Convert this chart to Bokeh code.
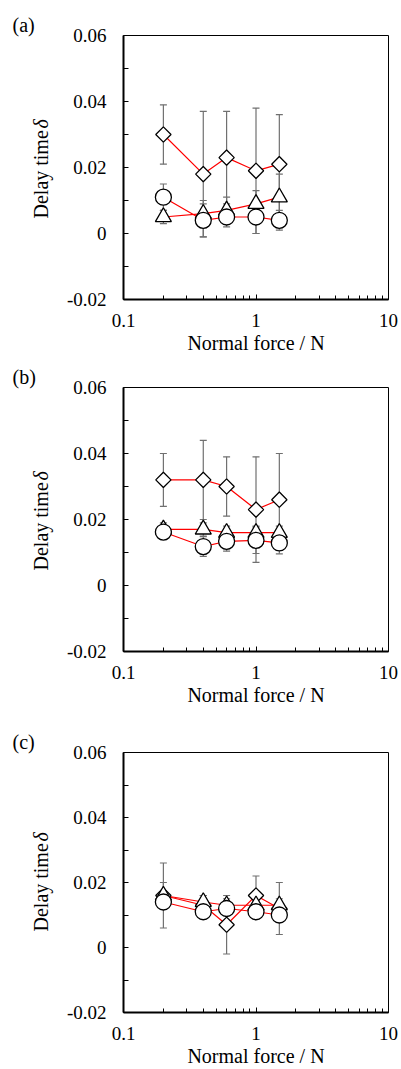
import math
from bokeh.plotting import figure
from bokeh.models import (Range1d, FixedTicker, Whisker, TeeHead, ColumnDataSource, Title)
from bokeh.layouts import column
from bokeh.embed import file_html
from bokeh.resources import INLINE

# ---- data ----
x_force = [0.2, 0.4, 0.6, 1.0, 1.5]

a_diamond = [0.030, 0.018, 0.023, 0.019, 0.021]
a_diamond_err = [0.009, 0.019, 0.014, 0.019, 0.015]
a_triangle = [0.005, 0.006, 0.007, 0.009, 0.011]
a_triangle_err = [0.002, 0.004, 0.004, 0.004, 0.007]
a_circle = [0.011, 0.004, 0.005, 0.005, 0.004]
a_circle_err = [0.004, 0.005, 0.003, 0.005, 0.003]

b_diamond = [0.032, 0.032, 0.030, 0.023, 0.026]
b_diamond_err = [0.008, 0.012, 0.009, 0.016, 0.014]
b_triangle = [0.017, 0.017, 0.016, 0.016, 0.016]
b_triangle_err = [0.002, 0.002, 0.002, 0.002, 0.002]
b_circle = [0.0162, 0.0118, 0.0134, 0.0137, 0.0129]
b_circle_err = [0.001, 0.003, 0.003, 0.004, 0.0033]

c_diamond = [0.016, 0.013, 0.007, 0.016, 0.012]
c_diamond_err = [0.010, 0.003, 0.009, 0.006, 0.008]
c_triangle = [0.016, 0.014, 0.013, 0.013, 0.013]
c_triangle_err = [0.004, 0.002, 0.002, 0.002, 0.002]
c_circle = [0.014, 0.011, 0.012, 0.011, 0.010]
c_circle_err = [0.002, 0.002, 0.002, 0.002, 0.002]

y_major = [-0.02, 0.0, 0.02, 0.04, 0.06]
y_minor = [-0.01, 0.01, 0.03, 0.05]
y_labels = {-0.02: "-0.02", 0.0: "0", 0.02: "0.02", 0.04: "0.04", 0.06: "0.06"}
x_major = [0.1, 1, 10]
x_minor = [0.2, 0.3, 0.4, 0.5, 0.6, 0.7, 0.8, 0.9, 2, 3, 4, 5, 6, 7, 8, 9]
x_labels = {0.1: "0.1", 1: "1", 10: "10"}
y_title_main = "Delay time"
y_title_symbol = "δ"

FONT = "Liberation Serif"
ERR_COLOR = "#707070"


def panel(tag, series, height, top, bottom):
    p = figure(width=401, height=height, x_axis_type="log",
               x_range=Range1d(0.1, 10), y_range=Range1d(-0.02, 0.06),
               output_backend="svg", toolbar_location=None,
               min_border_left=123, min_border_right=13,
               min_border_top=top, min_border_bottom=bottom,
               title=tag)
    p.title.text_font = FONT
    p.title.text_font_size = "20px"
    p.title.text_font_style = "normal"
    p.title.text_color = "black"
    p.title.align = "left"
    p.title.offset = -111
    p.title.standoff = 0
    p.xgrid.visible = False
    p.ygrid.visible = False
    p.outline_line_color = "black"
    p.outline_line_width = 1
    p.background_fill_color = "white"
    p.border_fill_color = "white"

    p.yaxis.ticker = FixedTicker(ticks=y_major, minor_ticks=y_minor)
    p.yaxis.major_label_overrides = y_labels
    p.xaxis.ticker = FixedTicker(ticks=x_major, minor_ticks=x_minor)
    p.xaxis.major_label_overrides = x_labels

    p.axis.axis_line_width = 2
    p.axis.axis_line_color = "black"
    p.axis.major_tick_in = 5
    p.axis.major_tick_out = 0
    p.axis.minor_tick_in = 4
    p.axis.minor_tick_out = 0
    p.axis.major_tick_line_color = "black"
    p.axis.minor_tick_line_color = "black"
    p.axis.major_label_text_font = FONT
    p.axis.major_label_text_font_size = "19px"
    p.axis.major_label_text_color = "black"
    p.yaxis.major_label_standoff = 17
    p.xaxis.major_label_standoff = 14
    p.yaxis.minor_tick_in = 5

    p.xaxis.axis_label = "Normal force / N"
    p.axis.axis_label_text_font = FONT
    p.axis.axis_label_text_font_style = "normal"
    p.axis.axis_label_text_font_size = "20px"
    p.axis.axis_label_text_color = "black"
    p.xaxis.axis_label_standoff = 2

    # y-axis title: upright words + italic delta, both as left-side titles
    t1 = Title(text=y_title_main, text_font=FONT, text_font_size="20px",
               text_font_style="normal", text_color="black",
               align="left", offset=81, standoff=24)
    p.add_layout(t1, "left")
    t2 = Title(text=y_title_symbol, text_font=FONT, text_font_size="20px",
               text_font_style="italic", text_color="black",
               align="left", offset=171, standoff=-72)
    p.add_layout(t2, "left")

    for vals, errs, marker in series:
        src = ColumnDataSource(dict(x=x_force, y=vals,
                                    upper=[v + e for v, e in zip(vals, errs)],
                                    lower=[v - e for v, e in zip(vals, errs)]))
        w = Whisker(base="x", upper="upper", lower="lower", source=src,
                    dimension="height", line_color=ERR_COLOR, line_width=1.2,
                    upper_head=TeeHead(size=7, line_color=ERR_COLOR, line_width=1.2),
                    lower_head=TeeHead(size=7, line_color=ERR_COLOR, line_width=1.2))
        p.add_layout(w)
    for vals, errs, marker in series:
        p.line(x_force, vals, line_color="red", line_width=1.2)
    for vals, errs, marker in series:
        if marker == "diamond":
            p.scatter(x_force, vals, marker="square", size=10.8, angle=math.pi / 4,
                      fill_color="white", line_color="black", line_width=1.3)
        elif marker == "triangle":
            p.scatter(x_force, vals, marker="triangle", size=16,
                      fill_color="white", line_color="black", line_width=1.3)
        else:
            p.scatter(x_force, vals, marker="circle", size=16,
                      fill_color="white", line_color="black", line_width=1.3)
    return p


pa = panel("(a)", [(a_diamond, a_diamond_err, "diamond"),
                   (a_triangle, a_triangle_err, "triangle"),
                   (a_circle, a_circle_err, "circle")], 363, 35, 64)
pb = panel("(b)", [(b_diamond, b_diamond_err, "diamond"),
                   (b_triangle, b_triangle_err, "triangle"),
                   (b_circle, b_circle_err, "circle")], 365, 24, 77)
pc = panel("(c)", [(c_diamond, c_diamond_err, "diamond"),
                   (c_triangle, c_triangle_err, "triangle"),
                   (c_circle, c_circle_err, "circle")], 341, 24, 57)

layout = column(pa, pb, pc, spacing=0)
open("out.html", "w").write(file_html(layout, INLINE))
